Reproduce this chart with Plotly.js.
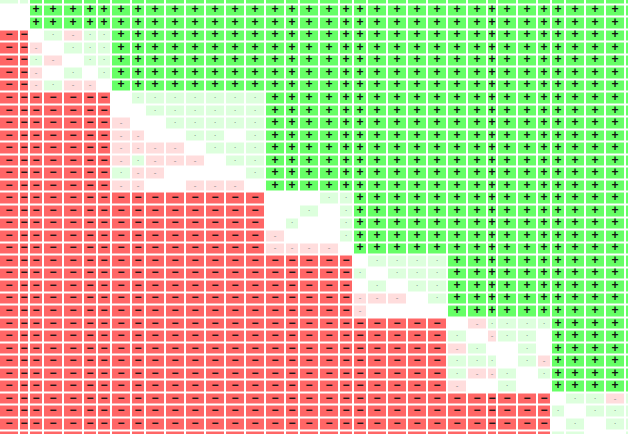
<!DOCTYPE html>
<html>
<head>
<meta charset="utf-8">
<script src="https://cdn.plot.ly/plotly-3.0.1.min.js"></script>
<style>html,body{margin:0;padding:0;background:#fff;}#chart{width:628px;height:434px;}</style>
</head>
<body>
<div id="chart"></div>
<script>
// Column widths (relative data widths of each column)
const colWidths = [1, 0.5, 0.7, 1, 1, 0.7, 0.7, 1, 0.7, 1, 1, 1, 1, 1, 1, 1, 0.7, 1, 1, 0.7, 0.7, 1, 1, 1, 1, 1, 1, 0.5, 1, 1, 0.7, 0.7, 1, 1, 1, 1];

// Cell categories per row: R strong negative, r weak negative, . none, g weak positive, G strong positive
const rowsA = [
  "gg|GGGGG|GGGGGGGG|GGGGG|GGGGG|GGGGGG|GGGGG",
  "..|GGGGG|GGGGGGGG|GGGGG|GGGGG|GGGGGG|GGGGG",
  "..|GGGGG|GGGGGGGG|GGGGG|GGGGG|GGGGGG|GGGGG"
];
const rowsB = [
  "RR|.grgg|GGGGGGGG|GGGGG|GGGGG|GGGGGG|GGGGG",
  "RR|r.ggg|GGGGGGGG|GGGGG|GGGGG|GGGGGG|GGGGG",
  "RR|gr.gg|GGGGGGGG|GGGGG|GGGGG|GGGGGG|GGGGG",
  "RR|r.g.g|GGGGGGGG|GGGGG|GGGGG|GGGGGG|GGGGG",
  "RR|rgrr.|GGGGGGGG|GGGGG|GGGGG|GGGGGG|GGGGG"
];
const rowsC = [
  "RR|RRRRR|.ggggggg|GGGGG|GGGGG|GGGGGG|GGGGG",
  "RR|RRRRR|..gggggg|GGGGG|GGGGG|GGGGGG|GGGGG",
  "RR|RRRRR|r..ggggg|GGGGG|GGGGG|GGGGGG|GGGGG",
  "RR|RRRRR|rr..gg.g|GGGGG|GGGGG|GGGGGG|GGGGG",
  "RR|RRRRR|rrrr.ggg|GGGGG|GGGGG|GGGGGG|GGGGG",
  "RR|RRRRR|rgrrr.gg|GGGGG|GGGGG|GGGGGG|GGGGG",
  "RR|RRRRR|grr....g|GGGGG|GGGGG|GGGGGG|GGGGG",
  "RR|RRRRR|rr..rrr.|GGGGG|GGGGG|GGGGGG|GGGGG"
];
const rowsD = [
  "RR|RRRRR|RRRRRRRR|...gg|GGGGG|GGGGGG|GGGGG",
  "RR|RRRRR|RRRRRRRR|..g.g|GGGGG|GGGGGG|GGGGG",
  "RR|RRRRR|RRRRRRRR|.g..g|GGGGG|GGGGGG|GGGGG",
  "RR|RRRRR|RRRRRRRR|r...g|GGGGG|GGGGGG|GGGGG",
  "RR|RRRRR|RRRRRRRR|rrrr.|GGGGG|GGGGGG|GGGGG"
];
const rowsE = [
  "RR|RRRRR|RRRRRRRR|RRRRR|.gggg|GGGGGG|GGGGG",
  "RR|RRRRR|RRRRRRRR|RRRRR|g.ggg|GGGGGG|GGGGG",
  "RR|RRRRR|RRRRRRRR|RRRRR|.g.gg|GGGGGG|GGGGG",
  "RR|RRRRR|RRRRRRRR|RRRRR|rrr.g|GGGGGG|GGGGG",
  "RR|RRRRR|RRRRRRRR|RRRRR|r....|GGGGGG|GGGGG"
];
const rowsF = [
  "RR|RRRRR|RRRRRRRR|RRRRR|RRRRR|.rgggg|GGGGG",
  "RR|RRRRR|RRRRRRRR|RRRRR|RRRRR|g.rgg.|GGGGG",
  "RR|RRRRR|RRRRRRRR|RRRRR|RRRRR|rg..g.|GGGGG",
  "RR|RRRRR|RRRRRRRR|RRRRR|RRRRR|ggg.gr|GGGGG",
  "RR|RRRRR|RRRRRRRR|RRRRR|RRRRR|grrg.g|GGGGG",
  "RR|RRRRR|RRRRRRRR|RRRRR|RRRRR|r..g..|GGGGG"
];
const rowsG = [
  "RR|RRRRR|RRRRRRRR|RRRRR|RRRRR|RRRRRR|.ggrg",
  "RR|RRRRR|RRRRRRRR|RRRRR|RRRRR|RRRRRR|g.ggg",
  "RR|RRRRR|RRRRRRRR|RRRRR|RRRRR|RRRRRR|.g.gg",
  "RR|RRRRR|RRRRRRRR|RRRRR|RRRRR|RRRRRR|gg..g"
];

const codeValue = {"R": -2, "r": -1, ".": 0, "g": 1, "G": 2};
const symbols = {"R": "\u2212", "r": "-", "g": "\u00b7", "G": "+"};

const allRows = [].concat(rowsA, rowsB, rowsC, rowsD, rowsE, rowsF, rowsG).map(s => s.replace(/\|/g, ""));

// Column edges from widths
const xEdges = [0];
colWidths.forEach(w => xEdges.push(+(xEdges[xEdges.length - 1] + w).toFixed(4)));
const xCenters = colWidths.map((w, i) => (xEdges[i] + xEdges[i + 1]) / 2);
const yIdx = allRows.map((_, i) => i);

const z = allRows.map(s => s.split("").map(c => codeValue[c]));

const colorscale = [
  [0, "#ff6666"], [0.125, "#ff6666"],
  [0.125, "#ffdddd"], [0.375, "#ffdddd"],
  [0.375, "#ffffff"], [0.625, "#ffffff"],
  [0.625, "#ddffdd"], [0.875, "#ddffdd"],
  [0.875, "#66ff66"], [1, "#66ff66"]
];

const traces = [{
  type: "heatmap",
  x: xEdges,
  y: yIdx,
  z: z,
  zmin: -2, zmax: 2,
  colorscale: colorscale,
  showscale: false,
  xgap: 2, ygap: 2,
  hoverinfo: "skip"
}];

const textStyles = {
  "G": {size: 12, color: "#111111", weight: "bold"},
  "R": {size: 12, color: "#111111", weight: "bold"},
  "r": {size: 8, color: "#888888", weight: "normal"},
  "g": {size: 8, color: "#666666", weight: "normal"}
};

Object.keys(textStyles).forEach(code => {
  const xs = [], ys = [], ts = [];
  allRows.forEach((s, i) => {
    s.split("").forEach((c, j) => {
      if (c === code) { xs.push(xCenters[j]); ys.push(i); ts.push(symbols[c]); }
    });
  });
  traces.push({
    type: "scatter", mode: "text", x: xs, y: ys, text: ts,
    textposition: "middle center",
    textfont: {family: "Liberation Sans, Arial, sans-serif", size: textStyles[code].size, color: textStyles[code].color, weight: textStyles[code].weight},
    hoverinfo: "skip", showlegend: false
  });
});

const pxPerUnit = 20;
const layout = {
  width: 628, height: 434,
  margin: {l: 0, r: 0, t: 0, b: 0, pad: 0},
  paper_bgcolor: "#ffffff", plot_bgcolor: "#ffffff",
  showlegend: false,
  xaxis: {range: [0.05, 0.05 + 628 / pxPerUnit], visible: false, showgrid: false, zeroline: false, fixedrange: true},
  yaxis: {range: [34.82, 0.18], visible: false, showgrid: false, zeroline: false, fixedrange: true}
};

Plotly.newPlot("chart", traces, layout, {staticPlot: true, displayModeBar: false});
</script>
</body>
</html>
